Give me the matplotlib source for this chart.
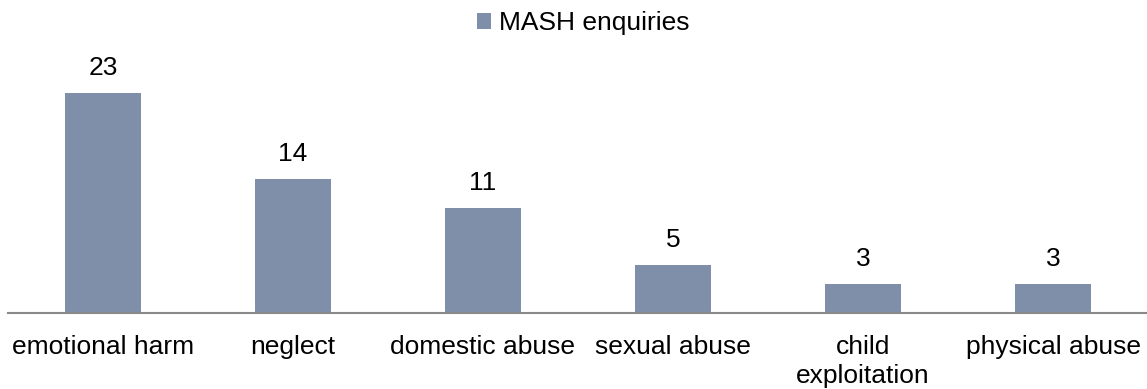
import matplotlib
matplotlib.use("Agg")
import matplotlib.pyplot as plt

categories = ["emotional harm", "neglect", "domestic abuse", "sexual abuse", "child\nexploitation", "physical abuse"]
values = [23, 14, 11, 5, 3, 3]
series_name = "MASH enquiries"

plt.rcParams['font.family'] = ['Liberation Sans', 'DejaVu Sans']

W, H = 1147, 389
fig = plt.figure(figsize=(W/100, H/100), dpi=100)
ax = fig.add_axes([8/W, (H-313)/H, 1140/W, 239/H])

color = "#7f8fa9"
x = range(len(categories))
bars = ax.bar(x, values, width=0.4, color=color, label=series_name)
ax.set_xlim(-0.5, len(categories) - 0.5)
ax.set_ylim(0, 25)

for xi, v in zip(x, values):
    ax.annotate(str(v), (xi, v), xytext=(0, 9.5), textcoords="offset points",
                ha="center", va="bottom", fontsize=19, color="#000000")

ax.set_xticks(list(x))
ax.set_xticklabels(categories, fontsize=19, linespacing=1.3)
ax.tick_params(axis="x", length=0, pad=15.5)
ax.set_yticks([])
for s in ["top", "left", "right"]:
    ax.spines[s].set_visible(False)
ax.spines["bottom"].set_color("#898989")
ax.spines["bottom"].set_linewidth(1.5)

leg = fig.legend(handles=[bars], labels=[series_name], loc="center",
                 bbox_to_anchor=(583/W, 1 - 23/H), frameon=False, fontsize=19,
                 handlelength=0.55, handleheight=0.55, handletextpad=0.3)

fig.savefig("out.png", dpi=100)
